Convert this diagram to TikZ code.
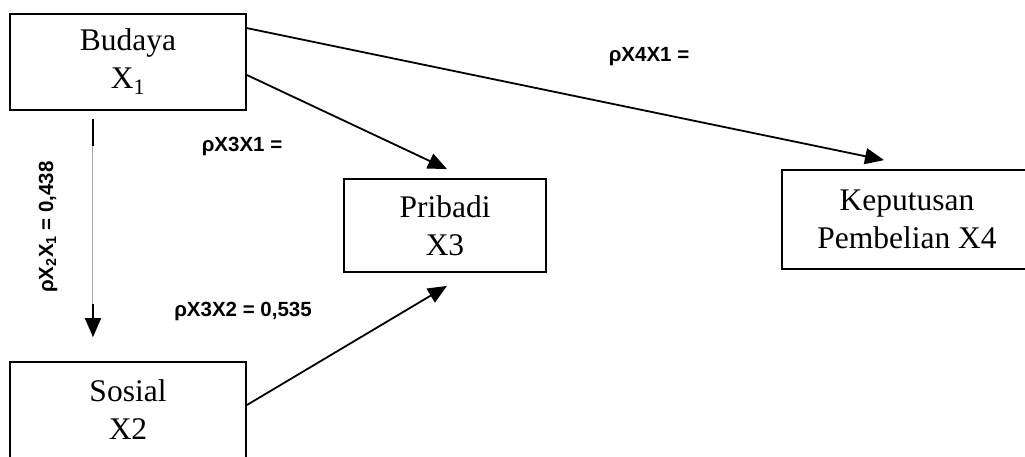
\documentclass[tikz,border=0pt]{standalone}
\usepackage{fontspec}
\setmainfont{Liberation Serif}
\newfontfamily\labelfont{Liberation Sans}
\usetikzlibrary{arrows.meta}

\tikzset{
  var/.style={draw, line width=1.8pt, inner sep=0pt, align=center,
    font=\fontsize{31.5}{38}\selectfont},
  link/.style={line width=1.8pt, -{Triangle[length=19pt,width=16pt]}},
  coef/.style={font=\labelfont\bfseries\fontsize{20.5}{24}\selectfont, inner sep=0pt},
  faint/.style={draw=gray!70, line width=0.5pt, double=white, double distance=0.9pt},
  solid seg/.style={line width=1.8pt}
}

\begin{document}
\begin{tikzpicture}[x=1pt, y=-1pt]
  \useasboundingbox (0,0) rectangle (1025,456);

  % variable boxes
  \node[var, minimum width=236pt, minimum height=96pt] (budaya) at (128,62) {Budaya\\X\textsubscript{1}};
  \node[var, minimum width=236pt, minimum height=96pt] (sosial) at (128,410) {Sosial\\X2};
  \node[var, minimum width=202pt, minimum height=93pt] (pribadi) at (445,225.5) {Pribadi\\X3};
  \node[var, minimum width=250pt, minimum height=99pt] (keputusan) at (907,219.5) {Keputusan\\Pembelian X4};

  % paths from Budaya
  \draw[link] ([yshift=-15pt]budaya.north east) -- ([xshift=-23pt,yshift=9pt]keputusan.north);
  \draw[link] ([yshift=-13pt]budaya.east) -- ([xshift=2pt,yshift=9pt]pribadi.north);

  % path from Sosial
  \draw[link] ([yshift=5pt]sosial.east) -- ([xshift=2pt,yshift=-13pt]pribadi.south);

  % vertical path Budaya -> Sosial: faint middle, solid ends
  \coordinate (vtop) at ([xshift=-35pt,yshift=-8pt]budaya.south);
  \coordinate (vbot) at ([xshift=-35pt,yshift=24pt]sosial.north);
  \draw[faint] (vtop) -- (vbot);
  \draw[solid seg] (vtop) -- ([yshift=-27pt]vtop);
  \draw[link] ([yshift=33pt]vbot) -- (vbot);

  % path coefficients
  \node[coef] (c41) at (649,57) {ρX4X1 =};
  \node[coef] (c31) at (242,146) {ρX3X1 =};
  \node[coef] (c32) at (243,311) {ρX3X2 = 0,535};
  \node[coef, rotate=90] (c21) at (48,227) {ρX\textsubscript{2}X\textsubscript{1} = 0,438};
\end{tikzpicture}
\end{document}
